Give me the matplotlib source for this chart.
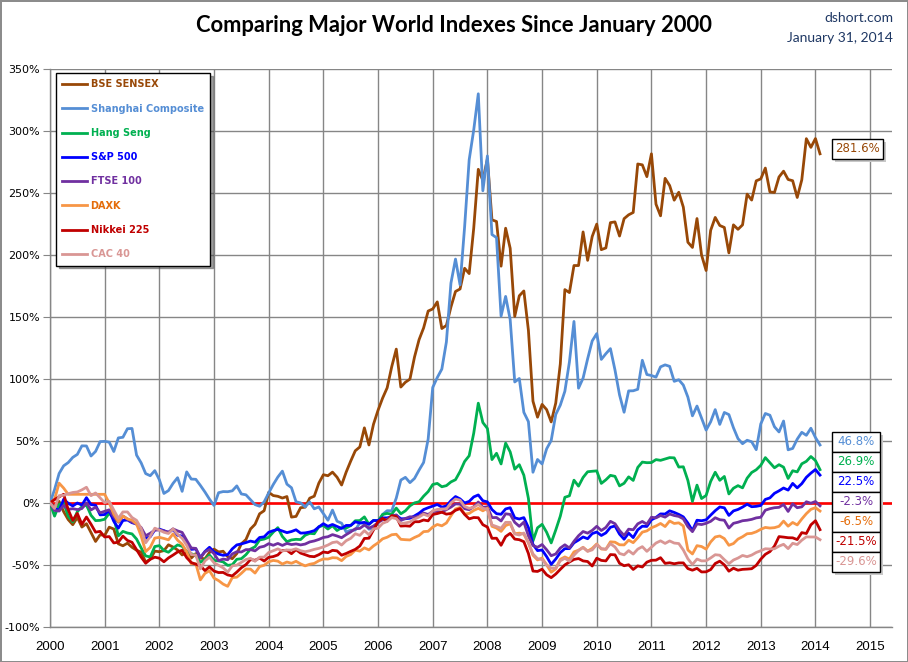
import numpy as np
import matplotlib.pyplot as plt
from matplotlib.patches import Rectangle

W, H = 908, 662

names = ['BSE SENSEX', 'Shanghai Composite', 'Hang Seng', 'S&P 500',
         'FTSE 100', 'DAXK', 'Nikkei 225', 'CAC 40']
line_colors = ['#984807', '#558ED5', '#00B050', '#0000FF',
               '#7030A0', '#F79646', '#C00000', '#D99694']
text_colors = ['#984807', '#558ED5', '#00B050', '#0000FF',
               '#7030A0', '#E46C0A', '#C00000', '#D99694']

# % change since start of Jan 2000, first value is the start, then month ends
# Jan 2000 .. Jan 2014
sensex = [0,
    -3.1, 1.3, -7.0, -13.4, -17.5, -11.6, -19.4, -16.7, -23.9, -31.0, -25.6, -26.1,
    -19.5, -21.0, -32.9, -34.5, -32.4, -35.7, -38.1, -39.6, -47.7, -45.3, -38.8, -39.3,
    -38.4, -33.7, -35.5, -37.9, -41.9, -39.6, -44.4, -40.8, -44.4, -45.1, -39.9, -37.2,
    -39.5, -38.9, -43.3, -44.9, -40.8, -32.9, -29.5, -21.0, -17.2, -8.7, -6.2, 8.6,
    6.0, 5.4, 4.0, 5.2, -11.4, -10.8, -3.8, -3.4, 3.9, 5.5, 16.0, 22.8,
    22.0, 24.9, 20.8, 14.5, 24.9, 33.8, 42.1, 45.2, 60.6, 46.8, 63.5, 74.8,
    84.6, 92.9, 109.9, 124.1, 93.5, 97.4, 99.9, 117.7, 131.7, 141.2, 154.8, 156.5,
    162.2, 140.7, 143.2, 158.1, 170.6, 172.6, 189.3, 185.0, 221.7, 269.1, 260.2, 277.4,
    228.4, 227.0, 191.0, 221.6, 205.4, 150.5, 167.1, 171.0, 139.3, 82.1, 69.2, 79.5,
    75.3, 65.4, 80.6, 112.1, 172.1, 169.7, 191.5, 191.5, 218.6, 195.7, 214.9, 224.9,
    204.3, 205.7, 226.1, 226.7, 215.3, 229.3, 232.4, 234.3, 273.4, 272.7, 263.2, 281.6,
    241.0, 231.6, 261.8, 256.0, 244.2, 250.6, 238.6, 210.3, 206.1, 229.4, 200.0, 187.5,
    219.9, 230.3, 223.8, 222.2, 201.7, 224.3, 220.7, 224.3, 249.1, 244.3, 259.8, 261.4,
    270.1, 250.9, 250.4, 262.9, 267.6, 260.9, 259.9, 246.4, 260.6, 293.8, 286.8, 293.9,
    281.6]

shanghai = [0,
    10.8, 23.8, 30.0, 32.6, 36.8, 39.2, 46.1, 46.0, 37.9, 41.6, 49.5, 49.7,
    49.1, 41.5, 52.5, 53.0, 59.9, 60.1, 38.6, 32.4, 23.7, 22.0, 26.1, 18.8,
    7.7, 10.0, 15.8, 20.4, 9.4, 25.1, 19.3, 19.1, 14.2, 8.9, 3.1, -2.0,
    8.3, 9.2, 9.1, 9.8, 13.8, 7.3, 6.6, 2.6, -1.3, -2.6, 0.9, 8.1,
    14.9, 20.9, 25.7, 15.2, 12.3, 1.0, 0.1, -3.1, 0.8, -4.7, -3.2, -8.6,
    -13.9, -5.7, -14.7, -16.3, -23.4, -22.0, -21.8, -16.0, -16.6, -21.1, -20.6, -16.2,
    -9.2, -6.2, -6.3, 4.0, 18.5, 20.7, 16.4, 19.8, 26.5, 32.7, 51.6, 93.2,
    101.2, 108.0, 129.9, 177.4, 196.7, 175.9, 222.8, 276.8, 300.9, 330.0, 251.8, 279.9,
    216.5, 214.0, 150.7, 166.6, 147.9, 97.6, 100.4, 73.1, 65.6, 24.8, 35.1, 31.5,
    43.7, 50.4, 71.4, 78.9, 90.1, 113.7, 146.4, 92.6, 100.7, 116.3, 130.7, 136.6,
    115.8, 120.4, 124.5, 107.3, 87.2, 73.2, 90.4, 90.5, 91.7, 115.1, 103.6, 102.8,
    101.5, 109.8, 111.4, 110.2, 98.1, 99.4, 95.1, 85.4, 70.3, 78.2, 68.5, 58.8,
    65.5, 75.3, 63.4, 73.0, 71.3, 60.7, 51.9, 47.8, 50.6, 49.4, 43.0, 63.8,
    72.2, 70.8, 61.5, 57.3, 66.1, 42.9, 44.0, 51.5, 57.0, 54.6, 60.3, 52.8,
    46.8]

hang_seng = [0,
    -10.6, -1.2, 0.2, -10.7, -15.3, -7.0, -3.0, -1.6, -9.9, -14.2, -14.0, -13.1,
    -8.3, -12.1, -26.5, -22.9, -24.2, -24.9, -29.1, -36.2, -42.7, -43.5, -35.1, -34.4,
    -38.3, -39.7, -36.5, -33.8, -34.9, -39.0, -40.9, -42.2, -47.8, -45.6, -42.0, -46.3,
    -46.7, -47.5, -50.3, -49.8, -45.4, -44.9, -41.7, -37.2, -35.3, -29.8, -29.1, -27.6,
    -23.5, -19.9, -27.0, -31.2, -29.8, -29.3, -29.5, -26.0, -24.5, -24.8, -19.1, -18.1,
    -21.0, -18.3, -22.2, -19.9, -20.2, -18.2, -14.3, -14.2, -11.2, -17.2, -14.0, -14.4,
    -9.3, -8.4, -9.0, -4.1, -8.7, -6.3, -2.3, 0.1, 1.0, 5.5, 9.2, 14.9,
    15.8, 13.1, 14.0, 17.0, 18.8, 25.4, 33.5, 38.1, 56.3, 80.5, 64.9, 60.1,
    35.0, 40.1, 31.5, 48.3, 41.2, 27.3, 30.9, 22.4, 3.7, -30.6, -20.0, -17.2,
    -23.6, -32.2, -21.8, -10.6, 4.6, 5.8, 18.4, 13.6, 20.6, 25.2, 25.6, 25.9,
    15.8, 18.7, 22.3, 21.5, 13.8, 15.9, 21.1, 18.2, 28.7, 33.0, 32.5, 32.6,
    35.0, 34.4, 35.5, 36.6, 36.4, 29.0, 29.2, 18.2, 1.3, 14.4, 3.6, 6.1,
    17.4, 24.8, 18.3, 21.4, 7.3, 11.9, 14.0, 12.2, 20.0, 24.6, 26.8, 30.4,
    36.6, 32.5, 28.4, 30.9, 28.9, 19.8, 26.0, 25.1, 31.6, 33.6, 37.5, 34.2,
    26.9]

sp500 = [0,
    -4.2, -6.1, 3.0, -0.2, -2.4, 0.0, -1.7, 4.3, -1.3, -1.8, -9.6, -9.3,
    -6.1, -14.8, -20.3, -14.1, -13.7, -15.9, -16.8, -22.1, -28.5, -27.2, -21.7, -21.1,
    -22.3, -23.9, -21.2, -26.0, -26.7, -32.0, -37.4, -37.0, -44.0, -39.1, -35.7, -39.5,
    -41.2, -42.2, -41.7, -37.0, -33.8, -33.0, -31.9, -30.7, -31.6, -27.8, -27.3, -23.6,
    -22.3, -21.3, -22.6, -23.9, -23.0, -21.6, -24.3, -24.1, -23.4, -22.3, -19.3, -16.7,
    -18.8, -17.3, -18.9, -20.5, -18.1, -18.1, -15.2, -16.1, -15.6, -17.1, -14.1, -14.2,
    -12.0, -12.0, -11.0, -9.9, -12.7, -12.7, -12.3, -10.4, -8.2, -5.3, -3.8, -2.5,
    -1.2, -3.3, -2.4, 1.9, 5.2, 3.3, 0.0, 1.3, 4.9, 6.5, 1.8, 0.9,
    -5.3, -8.6, -9.1, -4.8, -3.8, -12.0, -12.9, -11.8, -19.8, -33.4, -38.4, -37.9,
    -43.2, -49.5, -45.2, -40.0, -36.8, -36.8, -32.1, -29.9, -27.4, -28.8, -24.7, -23.4,
    -26.2, -24.1, -19.6, -18.5, -25.1, -29.2, -24.3, -27.9, -21.6, -18.7, -18.9, -13.6,
    -11.6, -8.8, -8.9, -6.3, -7.6, -9.2, -11.2, -16.2, -22.3, -13.9, -14.3, -13.6,
    -9.8, -6.2, -3.2, -3.9, -10.0, -6.4, -5.2, -3.3, -1.0, -3.0, -2.7, -2.0,
    2.9, 4.1, 7.8, 9.8, 12.1, 10.4, 15.8, 12.2, 15.6, 20.7, 24.1, 27.0,
    22.5]

ftse = [0,
    -6.0, -6.5, -1.9, -5.1, -4.6, -5.3, -4.5, 0.1, -5.6, -3.4, -7.9, -6.7,
    -5.5, -11.2, -15.5, -10.5, -13.0, -15.4, -17.1, -19.8, -26.4, -24.4, -21.9, -21.7,
    -22.5, -23.5, -20.9, -22.5, -23.7, -30.1, -36.3, -36.6, -44.2, -39.4, -37.5, -40.9,
    -46.5, -45.2, -45.8, -41.1, -39.3, -39.5, -37.6, -37.6, -38.6, -35.7, -34.9, -32.8,
    -34.1, -32.6, -34.2, -32.6, -33.5, -33.0, -33.8, -33.1, -31.4, -30.6, -29.4, -27.8,
    -27.2, -25.5, -26.6, -28.0, -25.5, -23.3, -20.8, -20.5, -17.8, -20.2, -18.6, -15.7,
    -13.6, -13.1, -10.5, -9.6, -14.1, -12.5, -11.1, -11.4, -10.6, -8.1, -9.3, -6.7,
    -6.9, -7.4, -5.4, -3.3, -0.7, -0.9, -4.6, -5.4, -3.0, 0.8, -3.5, -3.1,
    -11.8, -11.7, -14.5, -8.7, -9.2, -15.6, -18.8, -15.4, -26.5, -34.3, -35.7, -33.5,
    -37.7, -42.5, -41.1, -36.3, -33.7, -36.3, -30.9, -26.4, -23.0, -24.3, -22.1, -18.8,
    -22.2, -19.7, -14.8, -16.7, -22.2, -26.2, -21.1, -21.6, -16.8, -14.9, -17.1, -11.5,
    -12.0, -10.1, -11.4, -8.9, -10.1, -10.8, -12.8, -19.1, -23.1, -16.8, -17.4, -16.4,
    -14.8, -11.9, -13.5, -13.9, -20.2, -16.4, -15.5, -14.3, -13.9, -13.2, -12.0, -11.5,
    -5.8, -4.6, -3.8, -3.5, -1.2, -6.8, -0.7, -3.8, -3.1, 1.0, -0.2, 1.2,
    -2.3]

daxk = [0,
    3.0, 16.0, 12.0, 7.0, 7.0, 7.0, 7.0, 7.0, 7.0, 7.0, 7.0, 7.0,
    0.0, -9.0, -15.0, -10.5, -12.8, -13.9, -16.9, -26.6, -39.2, -35.8, -28.3, -27.7,
    -28.6, -29.7, -24.9, -30.0, -33.2, -39.4, -49.0, -48.9, -62.0, -56.8, -54.6, -60.6,
    -62.6, -65.4, -67.2, -60.2, -59.8, -56.7, -53.2, -53.3, -56.5, -51.3, -50.2, -47.4,
    -46.3, -46.9, -49.2, -47.6, -48.6, -47.0, -49.1, -50.7, -49.4, -48.7, -46.6, -45.1,
    -45.2, -44.1, -44.3, -46.5, -43.1, -41.6, -38.0, -38.8, -36.2, -37.8, -34.6, -32.1,
    -28.9, -27.6, -25.6, -25.2, -29.3, -29.6, -29.8, -27.8, -26.2, -23.1, -22.8, -19.4,
    -17.3, -18.4, -16.1, -10.3, -4.8, -3.6, -8.9, -8.4, -6.0, -4.3, -6.3, -4.2,
    -18.8, -20.2, -22.9, -18.2, -16.7, -24.8, -24.3, -25.1, -32.1, -42.1, -45.9, -44.4,
    -50.0, -55.8, -53.1, -45.4, -43.5, -45.2, -39.4, -38.1, -35.7, -38.8, -36.6, -33.0,
    -37.1, -37.3, -31.3, -31.6, -33.7, -33.8, -30.0, -32.0, -28.0, -23.5, -22.5, -20.0,
    -18.5, -16.5, -19.0, -14.5, -16.5, -16.0, -18.5, -37.9, -41.1, -34.4, -35.1, -37.2,
    -31.4, -27.4, -26.6, -28.7, -34.1, -32.7, -29.1, -27.2, -24.8, -24.5, -23.2, -21.2,
    -19.7, -20.2, -19.9, -18.8, -14.6, -18.7, -15.7, -17.7, -12.9, -8.6, -5.1, -3.8,
    -6.5]

nikkei = [0,
    2.8, 5.0, 7.0, -5.4, -14.1, -8.4, -17.2, -11.3, -17.1, -23.5, -22.9, -27.4,
    -27.1, -32.2, -31.6, -26.7, -30.2, -31.7, -37.6, -43.6, -48.6, -45.4, -43.7, -44.5,
    -47.4, -44.3, -42.0, -39.5, -38.1, -44.1, -48.0, -49.4, -50.6, -54.5, -51.5, -54.9,
    -56.1, -56.0, -58.0, -58.8, -55.7, -52.2, -49.7, -45.6, -46.2, -44.4, -46.8, -43.8,
    -43.2, -41.9, -38.3, -38.1, -40.9, -37.6, -40.4, -41.7, -43.0, -43.3, -41.7, -39.5,
    -40.1, -38.2, -38.6, -42.1, -40.7, -39.0, -37.4, -34.7, -28.6, -28.4, -21.7, -15.2,
    -12.4, -14.7, -10.2, -11.0, -18.6, -18.4, -18.7, -15.1, -15.1, -13.7, -14.4, -9.3,
    -8.5, -7.4, -9.0, -8.4, -5.9, -4.5, -9.2, -12.8, -11.7, -11.9, -17.5, -19.4,
    -28.5, -28.4, -34.1, -27.1, -24.5, -29.1, -29.6, -31.2, -40.7, -54.9, -55.2, -53.4,
    -57.9, -60.2, -57.3, -53.5, -49.9, -47.6, -45.5, -44.8, -46.7, -47.2, -50.8, -44.5,
    -46.3, -46.7, -41.6, -41.8, -48.6, -50.6, -49.8, -53.6, -50.7, -51.6, -47.7, -46.2,
    -46.1, -44.1, -48.7, -48.2, -49.0, -48.3, -48.3, -52.9, -54.2, -52.7, -55.6, -55.5,
    -53.7, -48.8, -46.9, -49.9, -55.0, -52.6, -54.2, -53.5, -53.3, -53.0, -50.3, -45.3,
    -41.4, -39.2, -34.8, -27.1, -27.5, -28.0, -28.1, -29.5, -23.9, -24.6, -17.6, -14.3,
    -21.5]

cac40 = [0,
    -4.4, 5.9, 6.2, 7.5, 8.5, 8.9, 10.6, 12.7, 5.9, 8.1, 4.1, 0.2,
    1.4, -5.7, -12.4, -7.2, -7.2, -11.7, -14.0, -20.5, -32.1, -27.0, -20.3, -21.8,
    -23.6, -24.6, -20.8, -25.2, -28.4, -34.1, -41.5, -42.0, -53.1, -46.7, -43.7, -48.2,
    -50.3, -52.3, -55.7, -50.7, -50.1, -47.9, -45.6, -44.6, -47.0, -43.7, -43.6, -39.9,
    -38.5, -37.0, -38.7, -37.9, -38.0, -36.9, -38.5, -39.3, -38.5, -37.4, -36.6, -35.4,
    -33.9, -31.9, -31.3, -33.9, -30.4, -28.5, -24.8, -26.1, -22.3, -25.6, -20.9, -20.3,
    -16.4, -14.9, -11.8, -12.6, -16.7, -16.1, -15.3, -13.0, -11.3, -9.0, -10.5, -6.3,
    -5.2, -4.8, -4.8, 0.1, 3.2, 2.3, -2.8, -4.3, -3.4, -1.2, -4.2, -5.1,
    -17.7, -19.0, -20.4, -15.6, -15.6, -25.0, -25.8, -24.2, -31.9, -41.1, -44.9, -45.6,
    -49.9, -52.6, -52.6, -46.6, -44.6, -46.9, -42.1, -38.3, -35.9, -39.0, -37.8, -33.5,
    -36.8, -37.3, -32.8, -35.5, -40.7, -41.8, -38.4, -41.2, -37.2, -35.2, -39.0, -35.7,
    -32.3, -30.5, -32.6, -30.6, -32.3, -32.7, -37.9, -45.0, -49.6, -45.2, -46.7, -46.6,
    -44.3, -41.7, -42.1, -45.7, -49.0, -46.0, -44.4, -42.3, -43.3, -42.0, -39.9, -38.5,
    -36.9, -37.1, -36.9, -34.8, -33.3, -36.8, -32.5, -33.5, -30.0, -27.3, -27.4, -27.4,
    -29.6]

series = [sensex, shanghai, hang_seng, sp500, ftse, daxk, nikkei, cac40]
years = list(range(2000, 2016))
yticks = list(range(-100, 351, 50))

# month axis: start of Jan 2000, then each month end up to Jan 2014
t = 2000 + np.arange(len(sensex)) / 12.0

fig = plt.figure(figsize=(W / 100, H / 100), dpi=100)
fig.patch.set_edgecolor('#8c8c8c')
fig.patch.set_linewidth(2)

ax = fig.add_axes([50 / W, 1 - 627 / H, (892 - 50) / W, (627 - 69) / H])
grid_col = '#868686'
ax.set_xlim(2000, 2015.4)
ax.set_ylim(-100, 350)
ax.set_xticks(years)
ax.set_yticks(yticks)
ax.set_yticklabels([f'{v}%' for v in yticks], fontsize=8, family='DejaVu Sans')
ax.set_xticklabels([str(y) for y in years], fontsize=9.5,
                   family=['Liberation Sans Narrow', 'Liberation Sans', 'DejaVu Sans'])
ax.grid(True, color=grid_col, linewidth=1.0)
ax.set_axisbelow(True)
for s in ['top', 'right']:
    ax.spines[s].set_visible(False)
for s in ['left', 'bottom']:
    ax.spines[s].set_color(grid_col)
    ax.spines[s].set_linewidth(1.0)
ax.tick_params(axis='y', length=5, color=grid_col, pad=2)
ax.tick_params(axis='x', length=0, pad=10)

ax.axhline(0, color='#FF0000', linewidth=1.9, zorder=2)

handles = []
for vals, name, col in zip(series, names, line_colors):
    h, = ax.plot(t, vals, color=col, linewidth=2.0, label=name, zorder=3,
                 solid_joinstyle='round')
    handles.append(h)

leg = ax.legend(handles=handles, loc='upper left',
                bbox_to_anchor=(56 / W, 1 - 73 / H), bbox_transform=fig.transFigure,
                borderaxespad=0, frameon=True, fancybox=False, shadow=True,
                prop={'family': 'DejaVu Sans', 'weight': 'bold', 'size': 7},
                labelcolor=text_colors, handlelength=2.5, handletextpad=0.4,
                labelspacing=1.47, borderpad=0.65)
leg.get_frame().set_edgecolor('black')
leg.get_frame().set_linewidth(1.0)

# end-of-series value boxes
def px_rect(x0, y0, x1, y1, **kw):
    r = Rectangle((x0 / W, 1 - y1 / H), (x1 - x0) / W, (y1 - y0) / H,
                  transform=fig.transFigure, **kw)
    fig.add_artist(r)

def end_box(cy, x0, x1, text, color):
    px_rect(x0 + 3, cy - 7, x1 + 3, cy + 13, facecolor='#c8c8c8', edgecolor='none',
            zorder=9)
    px_rect(x0, cy - 10, x1, cy + 10, facecolor='white', edgecolor='black',
            linewidth=1.0, zorder=10)
    fig.text((x0 + x1) / 2 / W, 1 - cy / H, text, color=color, fontsize=8.5,
             family='DejaVu Sans', ha='center', va='center', zorder=11)

end_vals = [s[-1] for s in series]
end_box(149, 832, 883, f'{end_vals[0]:.1f}%', text_colors[0])
for k in range(1, 8):
    end_box(441.7 + 20 * (k - 1), 832, 880, f'{end_vals[k]:.1f}%', text_colors[k])

fig.text(454 / W, 1 - 25 / H, 'Comparing Major World Indexes Since January 2000',
         fontsize=15.8, weight='bold', family='Lato', ha='center', va='center')
fig.text(893 / W, 1 - 18 / H, 'dshort.com', fontsize=10, color='#1F3864',
         family='Lato', ha='right', va='center')
fig.text(893 / W, 1 - 38 / H, 'January 31, 2014', fontsize=10, color='#1F3864',
         family='Lato', ha='right', va='center')

fig.savefig('out.png', dpi=100)
